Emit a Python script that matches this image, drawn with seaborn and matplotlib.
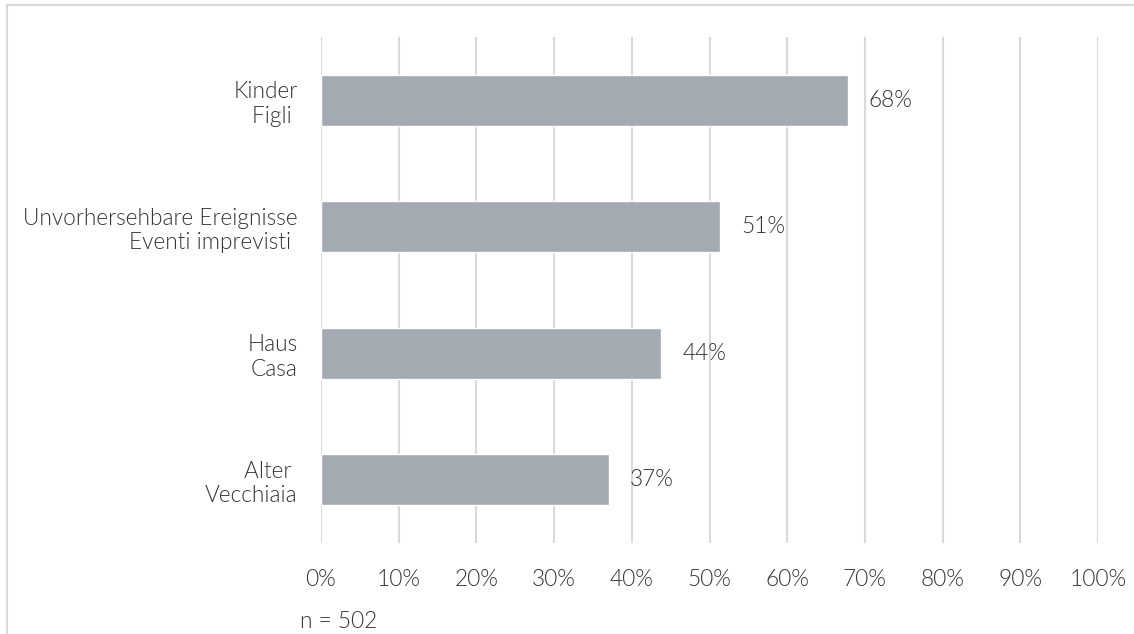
import matplotlib
matplotlib.use("Agg")
import matplotlib.pyplot as plt
from matplotlib.lines import Line2D
import seaborn as sns
import pandas as pd

categories = ["Kinder\nFigli ", "Unvorhersehbare Ereignisse\nEventi imprevisti ",
              "Haus\nCasa", "Alter \nVecchiaia"]
values = [67.8, 51.4, 43.8, 37.1]
value_labels = ["68%", "51%", "44%", "37%"]
x_ticks = [0, 10, 20, 30, 40, 50, 60, 70, 80, 90, 100]
x_tick_labels = [f"{t}%" for t in x_ticks]
note = "n = 502"

sns.set_theme(style="white")
plt.rcParams['font.family'] = ['Lato', 'DejaVu Sans']
TEXT = "#333333"
GRID = "#d9d9d9"
BAR = "#a4aab2"
FS = 16.3
W = 300

df = pd.DataFrame({"cat": categories, "val": values})

fig = plt.figure(figsize=(11.34, 6.34), dpi=100)
ax = fig.add_axes([321/1134, 1-543/634, (1098-321)/1134, (543-37)/634])
sns.barplot(data=df, y="cat", x="val", orient="h", color=BAR, width=0.4,
            saturation=1, ax=ax, zorder=3)

ax.set_xlim(0, 100)
ax.set_ylim(3.5, -0.5)
ax.set_xticks(x_ticks)
ax.set_xticklabels(x_tick_labels, fontsize=FS, color=TEXT, fontweight=W)
ax.set_yticklabels(categories, fontsize=FS, color=TEXT, fontweight=W,
                   multialignment="right", linespacing=1.2)
ax.tick_params(axis="x", length=0, pad=19)
ax.tick_params(axis="y", length=0, pad=17)
ax.set_xlabel("")
ax.set_ylabel("")
for s in ax.spines.values():
    s.set_visible(False)
ax.xaxis.grid(True, color=GRID, linewidth=1.5, zorder=0)
ax.yaxis.grid(False)
ax.set_axisbelow(True)

for i, (v, lab) in enumerate(zip(values, value_labels)):
    ax.annotate(lab, xy=(v, i), xytext=(15, 0), textcoords="offset points",
                ha="left", va="center", fontsize=FS, color=TEXT, fontweight=W)

fig.text(300/1134, 1-622/634, note, ha="left", va="center", fontsize=FS,
         color=TEXT, fontweight=W)

fig.add_artist(Line2D([7/1134, 1], [1-5/634, 1-5/634], color=GRID, linewidth=1.5))
fig.add_artist(Line2D([7/1134, 7/1134], [0, 1-5/634], color=GRID, linewidth=1.5))

fig.savefig("out.png", dpi=100, facecolor="white")
